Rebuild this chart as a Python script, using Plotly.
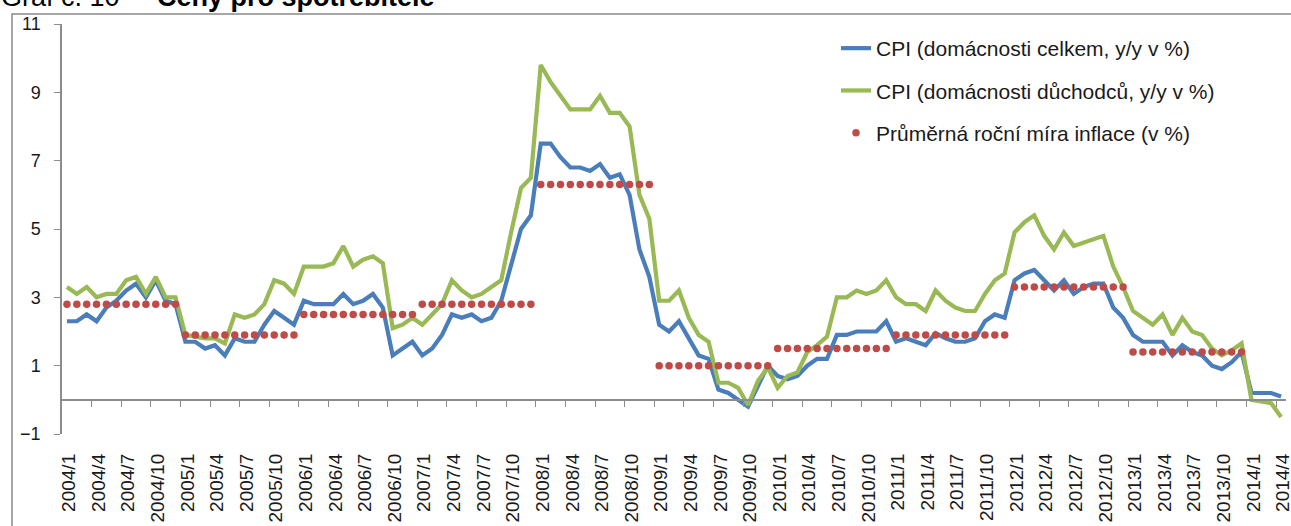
import plotly.graph_objects as go

years = list(range(2004, 2015))

cpi_total = [
    2.3, 2.3, 2.5, 2.3, 2.7, 2.9, 3.2, 3.4, 3.0, 3.5, 2.9, 2.8,
    1.7, 1.7, 1.5, 1.6, 1.3, 1.8, 1.7, 1.7, 2.2, 2.6, 2.4, 2.2,
    2.9, 2.8, 2.8, 2.8, 3.1, 2.8, 2.9, 3.1, 2.7, 1.3, 1.5, 1.7,
    1.3, 1.5, 1.9, 2.5, 2.4, 2.5, 2.3, 2.4, 2.9, 4.0, 5.0, 5.4,
    7.5, 7.5, 7.1, 6.8, 6.8, 6.7, 6.9, 6.5, 6.6, 6.0, 4.4, 3.6,
    2.2, 2.0, 2.3, 1.8, 1.3, 1.2, 0.3, 0.2, 0.0, -0.2, 0.4, 1.0,
    0.7, 0.6, 0.7, 1.0, 1.2, 1.2, 1.9, 1.9, 2.0, 2.0, 2.0, 2.3,
    1.7, 1.8, 1.7, 1.6, 1.95, 1.8, 1.7, 1.7, 1.8, 2.3, 2.5, 2.4,
    3.5, 3.7, 3.8, 3.5, 3.2, 3.5, 3.1, 3.3, 3.4, 3.4, 2.7, 2.4,
    1.9, 1.7, 1.7, 1.7, 1.3, 1.6, 1.4, 1.3, 1.0, 0.9, 1.1, 1.4,
    0.2, 0.2, 0.2, 0.1,
]

cpi_pensioners = [
    3.3, 3.1, 3.3, 3.0, 3.1, 3.1, 3.5, 3.6, 3.1, 3.6, 3.0, 3.0,
    1.9, 1.85, 1.8, 1.8, 1.65, 2.5, 2.4, 2.5, 2.8, 3.5, 3.4, 3.1,
    3.9, 3.9, 3.9, 4.0, 4.5, 3.9, 4.1, 4.2, 4.0, 2.1, 2.2, 2.4,
    2.2, 2.5, 2.8, 3.5, 3.2, 3.0, 3.1, 3.3, 3.5, 4.9, 6.2, 6.5,
    9.8, 9.3, 8.9, 8.5, 8.5, 8.5, 8.9, 8.4, 8.4, 8.0, 6.0, 5.3,
    2.9, 2.9, 3.2, 2.4, 1.9, 1.7, 0.5, 0.5, 0.35, -0.15, 0.55, 0.95,
    0.35, 0.7, 0.8, 1.4, 1.6, 1.85, 3.0, 3.0, 3.2, 3.1, 3.2, 3.5,
    3.0, 2.8, 2.8, 2.6, 3.2, 2.9, 2.7, 2.6, 2.6, 3.1, 3.5, 3.7,
    4.9, 5.2, 5.4, 4.8, 4.4, 4.9, 4.5, 4.6, 4.7, 4.8, 3.9, 3.3,
    2.6, 2.4, 2.2, 2.5, 1.9, 2.4, 2.0, 1.9, 1.5, 1.3, 1.45, 1.65,
    0.0, -0.05, -0.1, -0.5,
]

avg_years = [2004, 2005, 2006, 2007, 2008, 2009, 2010, 2011, 2012, 2013]
avg_annual = [2.8, 1.9, 2.5, 2.8, 6.3, 1.0, 1.5, 1.9, 3.3, 1.4]

n = len(cpi_total)
month_labels = [f"{years[0] + k // 12}/{k % 12 + 1}" for k in range(n)]
idx = list(range(n))

avg_x = [k for k in idx if (years[0] + k // 12) in avg_years]
avg_y = [avg_annual[avg_years.index(years[0] + k // 12)] for k in avg_x]

label_idx = idx[::3]
label_txt = [month_labels[k] for k in label_idx]
label_pos = [k + 0.2 for k in label_idx]
boundary_ticks = [k - 0.5 for k in idx[3::3]]

BLUE = "#4A7EBB"
GREEN = "#98B954"
RED = "#BE4B48"
AX = "#8C8C8C"
FONT = "Liberation Sans, Arial, sans-serif"

W, H = 1291, 526
ML, MR, MT, MB = 62, 5, 24, 92
PW, PH = W - ML - MR, H - MT - MB


def px_x(p):
    return (p - ML) / PW


def px_y(p):
    return 1 - (p - MT) / PH


fig = go.Figure()
fig.add_trace(go.Scatter(x=idx, y=cpi_total, mode="lines",
                         name="CPI (domácnosti celkem, y/y v %)",
                         line=dict(color=BLUE, width=4.2), legendgroup="a"))
fig.add_trace(go.Scatter(x=idx, y=cpi_pensioners, mode="lines",
                         name="CPI (domácnosti důchodců, y/y v %)",
                         line=dict(color=GREEN, width=4.2), legendgroup="b"))
fig.add_trace(go.Scatter(x=avg_x, y=avg_y, mode="markers",
                         name="Průměrná roční míra inflace (v %)",
                         marker=dict(color=RED, size=7.5), legendgroup="c"))
fig.add_trace(go.Scatter(x=idx, y=[None] * n, xaxis="x2", yaxis="y",
                         showlegend=False, hoverinfo="skip"))

xr = [-0.5, n - 0.5]
fig.update_layout(
    width=W, height=H,
    margin=dict(l=ML, r=MR, t=MT, b=MB),
    paper_bgcolor="white", plot_bgcolor="white",
    font=dict(family=FONT, color="#1a1a1a"),
    showlegend=True,
    legend=dict(x=px_x(836), y=px_y(28), xanchor="left", yanchor="top",
                font=dict(size=21, family=FONT, color="#1a1a1a"),
                bgcolor="rgba(0,0,0,0)", tracegroupgap=12),
    xaxis=dict(range=xr, anchor="free", position=1 / 12,
               showline=True, linecolor=AX, linewidth=1.5,
               tickmode="array", tickvals=boundary_ticks, ticks="outside",
               ticklen=6, tickcolor=AX, tickwidth=1.2,
               showticklabels=False, showgrid=False, zeroline=False,
               automargin=False),
    xaxis2=dict(range=xr, overlaying="x", anchor="y", side="bottom",
                tickmode="array", tickvals=label_pos, ticktext=label_txt,
                tickangle=-90, ticks="", showline=False, showgrid=False,
                zeroline=False, tickfont=dict(size=19, family=FONT, color="#1a1a1a"),
                ticklabelstandoff=15, ticklabeloverflow="allow", automargin=False),
    yaxis=dict(range=[-1, 11], tickmode="array", tickvals=list(range(-1, 12, 2)),
               showline=True, linecolor=AX, linewidth=1.5, ticks="outside",
               ticklen=6, tickcolor=AX, tickwidth=1.2, showgrid=False,
               zeroline=False, tickfont=dict(size=18, family=FONT, color="#1a1a1a"),
               ticklabelstandoff=10, automargin=False),
)

fig.add_shape(type="rect", xref="paper", yref="paper",
              x0=px_x(12), x1=px_x(1310), y0=px_y(560), y1=px_y(14),
              line=dict(color="#8a8a8a", width=1.5), fillcolor="rgba(0,0,0,0)",
              layer="below")

fig.add_annotation(xref="paper", yref="paper", x=px_x(0), y=px_y(13.5),
                   xanchor="left", yanchor="bottom", showarrow=False, borderpad=0,
                   text="Graf č. 10 –  <b>Ceny pro spotřebitele</b>",
                   font=dict(size=27, family=FONT, color="#000000"))

fig.write_html("out.html",
               config={"displayModeBar": False},
               post_script="document.body.style.margin='0';document.body.style.overflow='hidden';")
